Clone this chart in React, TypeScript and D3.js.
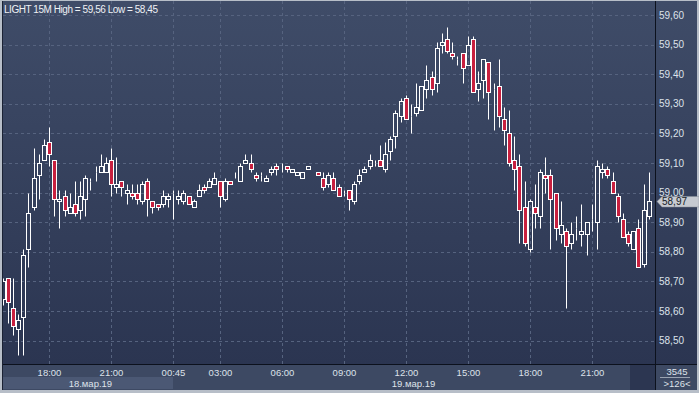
import * as d3 from 'd3';

const openP = [
  58.64, 58.71, 58.61, 58.54, 58.58, 58.81, 58.95, 59.06, 59.11, 59.17,
  59.11, 58.97, 58.99, 58.93, 58.96, 58.94, 58.98, 59.04, 59.07, 59.07,
  59.07, 59.11, 59.02, 59.04, 59.0, 59.0, 59.0, 58.97, 59.04, 58.97,
  58.96, 58.96, 58.98, 59.0, 58.98, 58.97, 58.99, 58.95, 58.99, 59.02,
  59.02, 59.03, 59.04, 58.98, 59.04, 59.05, 59.04, 59.1, 59.1, 59.06,
  59.06, 59.04, 59.07, 59.09, 59.1, 59.09, 59.07, 59.06, 59.05, 59.08,
  59.08, 59.07, 59.05, 59.03, 59.05, 59.02, 59.0, 59.01, 58.97, 59.04,
  59.07, 59.09, 59.1, 59.11, 59.08, 59.14, 59.19, 59.26, 59.32, 59.26,
  59.27, 59.28, 59.35, 59.39, 59.37, 59.5, 59.52, 59.47, 59.45, 59.47,
  59.43, 59.52, 59.35, 59.38, 59.44, 59.35, 59.36, 59.25, 59.2, 59.11,
  59.09, 58.95, 58.81, 58.95, 58.92, 59.06, 59.06, 59.0, 58.86, 58.87,
  58.83, 58.88, 58.86, 58.86, 58.91, 58.9, 59.07, 59.08, 59.04, 58.99,
  58.91, 58.86, 58.81, 58.88, 58.76, 58.92,
];
const highP = [
  58.71, 58.71, 58.71, 58.59, 58.81, 59.0, 59.15, 59.13, 59.18, 59.22,
  59.11, 59.01, 59.01, 59.0, 59.04, 59.04, 59.06, 59.05, 59.09, 59.13,
  59.12, 59.15, 59.12, 59.04, 59.03, 59.03, 59.03, 59.04, 59.05, 58.97,
  58.96, 59.01, 59.0, 59.01, 59.01, 59.01, 58.99, 58.98, 59.03, 59.03,
  59.05, 59.07, 59.04, 59.05, 59.04, 59.07, 59.1, 59.13, 59.13, 59.07,
  59.07, 59.06, 59.09, 59.1, 59.1, 59.09, 59.08, 59.07, 59.07, 59.09,
  59.08, 59.07, 59.07, 59.07, 59.07, 59.03, 59.01, 59.01, 59.04, 59.08,
  59.09, 59.13, 59.11, 59.16, 59.17, 59.19, 59.28, 59.32, 59.33, 59.3,
  59.37, 59.36, 59.43, 59.41, 59.51, 59.54, 59.56, 59.51, 59.46, 59.47,
  59.53, 59.53, 59.41, 59.45, 59.44, 59.37, 59.45, 59.29, 59.28, 59.19,
  59.13, 59.04, 58.98, 59.03, 59.08, 59.12, 59.08, 59.0, 58.97, 58.88,
  58.9, 58.92, 58.96, 58.9, 58.96, 59.11, 59.1, 59.09, 59.07, 59.0,
  58.93, 58.87, 58.87, 58.91, 59.03, 59.07,
];
const lowP = [
  58.62, 58.56, 58.52, 58.45, 58.45, 58.75, 58.94, 58.98, 59.11, 59.09,
  58.92, 58.88, 58.92, 58.93, 58.92, 58.91, 58.92, 59.01, 59.04, 59.07,
  59.07, 58.99, 59.0, 58.99, 58.96, 58.98, 58.96, 58.96, 58.92, 58.93,
  58.94, 58.95, 58.95, 58.91, 58.96, 58.96, 58.96, 58.95, 58.99, 59.0,
  59.02, 59.03, 58.95, 58.97, 59.03, 59.05, 59.04, 59.1, 59.07, 59.04,
  59.04, 59.04, 59.06, 59.06, 59.07, 59.07, 59.07, 59.06, 59.05, 59.08,
  59.08, 59.06, 59.01, 59.02, 59.01, 58.99, 58.99, 58.94, 58.96, 59.03,
  59.07, 59.08, 59.09, 59.09, 59.07, 59.11, 59.15, 59.24, 59.25, 59.2,
  59.26, 59.28, 59.32, 59.33, 59.34, 59.47, 59.47, 59.45, 59.43, 59.37,
  59.43, 59.34, 59.31, 59.32, 59.25, 59.21, 59.22, 59.16, 59.09, 59.01,
  58.83, 58.82, 58.8, 58.88, 58.88, 59.0, 58.81, 58.84, 58.83, 58.61,
  58.81, 58.84, 58.82, 58.79, 58.87, 58.81, 59.05, 59.05, 59.0, 58.9,
  58.85, 58.82, 58.81, 58.75, 58.75, 58.91,
];
const closeP = [
  58.7, 58.63, 58.55, 58.57, 58.79, 58.93, 59.05, 59.1, 59.16, 59.13,
  58.98, 58.98, 58.94, 58.95, 58.93, 58.99, 59.05, 59.04, 59.07, 59.09,
  59.1, 59.03, 59.03, 59.02, 59.01, 58.99, 58.98, 59.03, 58.98, 58.95,
  58.95, 58.99, 58.99, 59.0, 58.99, 59.0, 58.96, 58.97, 59.01, 59.01,
  59.04, 59.05, 58.99, 59.04, 59.03, 59.05, 59.09, 59.11, 59.08, 59.05,
  59.06, 59.05, 59.08, 59.08, 59.1, 59.08, 59.08, 59.07, 59.07, 59.09,
  59.08, 59.06, 59.02, 59.06, 59.01, 58.99, 59.0, 58.98, 59.03, 59.06,
  59.08, 59.11, 59.1, 59.09, 59.13, 59.18, 59.27, 59.31, 59.25, 59.26,
  59.29, 59.36, 59.38, 59.35, 59.49, 59.51, 59.48, 59.46, 59.45, 59.42,
  59.5, 59.34, 59.37, 59.45, 59.34, 59.35, 59.26, 59.21, 59.1, 59.08,
  58.94, 58.83, 58.97, 58.93, 59.07, 59.05, 58.98, 58.88, 58.89, 58.82,
  58.86, 58.88, 58.87, 58.9, 58.91, 59.09, 59.08, 59.06, 59.0, 58.92,
  58.85, 58.83, 58.87, 58.75, 58.94, 58.97,
];

const timeTickIdx = [9, 21, 33, 42, 54, 66, 78, 90, 102, 114];
const timeTickLabels = ['18:00', '21:00', '00:45', '03:00', '06:00', '09:00', '12:00', '15:00', '18:00', '21:00'];
const priceTicks = [58.5, 58.6, 58.7, 58.8, 58.9, 59.0, 59.1, 59.2, 59.3, 59.4, 59.5, 59.6];
const lastPrice = 58.97;

const W = 699;
const H = 393;
const left = 3;
const top = 1;
const plotRight = 655;
const plotBottom = 364;
const outerRight = 697;
const outerBottom = 390;

const font = '"Liberation Sans", Arial, sans-serif';
const textColor = '#dde2ea';
const upFill = 'none';
const downFill = '#c8203f';

const fmt = (v: number) => v.toFixed(2).replace('.', ',');

export default function App() {
  const n = openP.length;
  const x = d3.scaleLinear().domain([0, n - 1]).range([2.5, 648.7]);
  const y = d3.scaleLinear().domain([58.5, 59.6]).range([340.6, 15]);
  const px = (i: number) => Math.round(x(i)) + 0.5;

  const candles = d3.range(n).map((i) => {
    const o = openP[i];
    const c = closeP[i];
    const cx = px(i);
    const yTop = Math.round(y(Math.max(o, c))) + 0.5;
    const yBot = Math.round(y(Math.min(o, c))) + 0.5;
    const yHi = Math.round(y(highP[i])) + 0.5;
    const yLo = Math.round(y(lowP[i])) + 0.5;
    const down = c < o;
    return (
      <g key={i}>
        {yHi < yTop && <line x1={cx} x2={cx} y1={yHi} y2={yTop} stroke="#fff" />}
        {yLo > yBot && <line x1={cx} x2={cx} y1={yBot} y2={yLo} stroke="#fff" />}
        <rect
          x={cx - 2}
          y={yTop}
          width={4}
          height={yBot - yTop}
          fill={down ? downFill : upFill}
          stroke="#fff"
          strokeWidth={1}
        />
      </g>
    );
  });

  const yLast = y(lastPrice);

  return (
    <div>
      <style>{'body{margin:0}'}</style>
      <svg width={W} height={H} style={{ display: 'block', fontFamily: font }}>
        <defs>
          <linearGradient id="bg" x1="0" y1="0" x2="0" y2="1">
            <stop offset="0" stopColor="#3f4c68" />
            <stop offset="1" stopColor="#2b3551" />
          </linearGradient>
          <clipPath id="plotClip">
            <rect x={left} y={top} width={plotRight - left} height={plotBottom - top} />
          </clipPath>
        </defs>

        <rect x={0} y={0} width={W} height={H} fill="#b7bec8" />
        <rect x={left} y={top} width={outerRight - left} height={plotBottom - top} fill="url(#bg)" />
        <rect x={left} y={plotBottom} width={outerRight - left} height={outerBottom - plotBottom} fill="#3d4963" />
        <rect x={left} y={377} width={173 - left} height={12} fill="#4b5874" />
        <rect x={630} y={plotBottom + 1} width={plotRight - 630} height={outerBottom - plotBottom - 1} fill="#2c3651" />

        {/* grid */}
        <g stroke="#56637f" strokeDasharray="3,3" strokeWidth={1}>
          {priceTicks.map((p) => (
            <line key={p} x1={left} x2={plotRight} y1={Math.round(y(p)) + 0.5} y2={Math.round(y(p)) + 0.5} />
          ))}
          {timeTickIdx.map((i) => (
            <line key={i} x1={px(i)} x2={px(i)} y1={top} y2={plotBottom} />
          ))}
        </g>

        <g clipPath="url(#plotClip)">{candles}</g>

        {/* separators */}
        <line x1={2.5} x2={2.5} y1={top} y2={outerBottom} stroke="#1b2234" />
        <line x1={plotRight + 0.5} x2={plotRight + 0.5} y1={top} y2={outerBottom} stroke="#0c111d" />
        <line x1={left} x2={outerRight} y1={plotBottom + 0.5} y2={plotBottom + 0.5} stroke="#0c111d" />

        {/* title */}
        <text x={4} y={13} fill="#eef1f5" fontSize={10} letterSpacing={-0.45}>
          LIGHT 15M High = 59,56 Low = 58,45
        </text>

        {/* price axis */}
        {priceTicks.map((p) => (
          <text key={p} x={659} y={y(p) + 3.5} fill={textColor} fontSize={10}>
            {fmt(p)}
          </text>
        ))}
        <path
          d={`M657,${yLast} L662,${yLast - 5} L699,${yLast - 5} L699,${yLast + 5.5} L662,${yLast + 5.5} Z`}
          fill="#c6cad1"
          stroke="#8d939d"
          strokeWidth={0.5}
        />
        <text x={662} y={yLast + 3.8} fill="#151a24" fontSize={10}>
          {fmt(lastPrice)}
        </text>

        {/* time axis */}
        {timeTickIdx.map((i, k) => (
          <text key={i} x={px(i)} y={376} fill={textColor} fontSize={9.5} textAnchor="middle">
            {timeTickLabels[k]}
          </text>
        ))}
        <text x={x(17)} y={387} fill={textColor} fontSize={9.5} textAnchor="middle">
          18.мар.19
        </text>
        <text x={x(79.5)} y={387} fill={textColor} fontSize={9.5} textAnchor="middle">
          19.мар.19
        </text>

        {/* counter box */}
        <text x={677} y={375} fill={textColor} fontSize={9.5} textAnchor="middle">
          3545
        </text>
        <line x1={660} x2={690} y1={377.5} y2={377.5} stroke="#9aa3b2" />
        <text x={677} y={387} fill={textColor} fontSize={9.5} textAnchor="middle">
          {'>126<'}
        </text>
      </svg>
    </div>
  );
}
